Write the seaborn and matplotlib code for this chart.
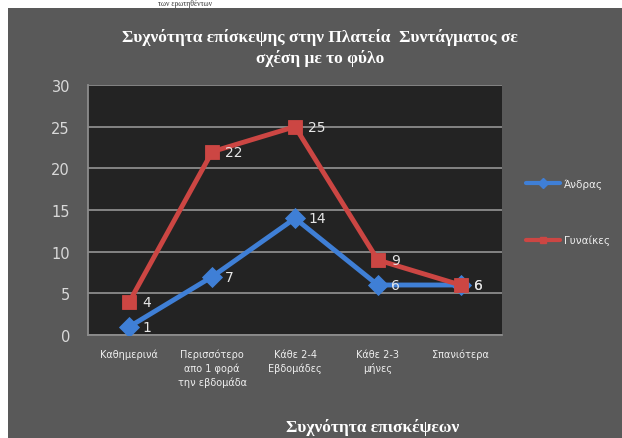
import pandas as pd
import numpy as np
import matplotlib
matplotlib.use("Agg")
import matplotlib.pyplot as plt
import seaborn as sns
from matplotlib.patches import Rectangle

# data
categories = ["Καθημερινά", "Περισσότερο\nαπο 1 φορά\nτην εβδομάδα",
              "Κάθε 2-4\nΕβδομάδες", "Κάθε 2-3\nμήνες", "Σπανιότερα"]
men = [1, 7, 14, 6, 6]
women = [4, 22, 25, 9, 6]
series_names = ["Άνδρας", "Γυναίκες"]
colors = ["#3f7fd6", "#cc4643"]

df = pd.DataFrame({
    "cat": list(range(len(categories))) * 2,
    "value": men + women,
    "series": [series_names[0]] * len(men) + [series_names[1]] * len(women),
})

sns.set_style("dark")
plt.rcParams["font.family"] = ["DejaVu Sans"]

fig = plt.figure(figsize=(6.22, 4.39), dpi=100)
fig.patch.set_facecolor("white")
# dark chart panel (behind the axes)
fig.patches.append(Rectangle((8 / 622, 0), 1 - 8 / 622, (439 - 9) / 439,
                             transform=fig.transFigure, facecolor="#595959",
                             edgecolor="none", zorder=-10))

ax = fig.add_axes([88 / 622, (439 - 336) / 439, 414 / 622, 250 / 439])
ax.set_facecolor("#232323")

sns.lineplot(data=df, x="cat", y="value", hue="series", style="series",
             markers={series_names[0]: "D", series_names[1]: "s"}, dashes=False,
             palette=colors, linewidth=3.5, markersize=10, markeredgewidth=0.6,
             ax=ax, legend=False, zorder=3)
for line, c in zip(ax.get_lines(), colors):
    line.set_markeredgecolor(c)

# data labels
for vals in (men, women):
    for i, v in enumerate(vals):
        ax.annotate(str(v), (i, v), xytext=(13, 0), textcoords="offset pixels",
                    ha="left", va="center", color="#e6e6e6", fontsize=10, zorder=4)

ax.set_xlim(-0.5, len(categories) - 0.5)
ax.set_ylim(0, 30)
ax.set_yticks(range(0, 31, 5))
ax.set_xticks(range(len(categories)))
ax.set_xticklabels(categories, fontsize=7, color="#eeeeee", linespacing=1.4)
ax.tick_params(axis="y", labelsize=10.5, labelcolor="#d9d9d9", length=6,
               color="#8c8c8c", width=1.2, pad=7)
ax.tick_params(axis="x", length=0, pad=10)
ax.grid(axis="y", color="#8c8c8c", linewidth=1.3)
ax.grid(axis="x", visible=False)
for side in ("top", "right"):
    ax.spines[side].set_visible(False)
for side in ("left", "bottom"):
    ax.spines[side].set_visible(True)
    ax.spines[side].set_color("#8c8c8c")
    ax.spines[side].set_linewidth(1.3)
ax.set_xlabel("")
ax.set_ylabel("")

# legend
handles = [plt.Line2D([], [], color=colors[0], marker="D", linewidth=3, markersize=5),
           plt.Line2D([], [], color=colors[1], marker="s", linewidth=3, markersize=5)]
leg = fig.legend(handles, series_names, loc="center left",
                 bbox_to_anchor=(517 / 622, 1 - 213 / 439), frameon=False,
                 labelspacing=4.4, handlelength=3.2, handletextpad=0.4,
                 fontsize=7.5)
for t in leg.get_texts():
    t.set_color("#eeeeee")

fig.text(320 / 622, 1 - 48 / 439,
         "Συχνότητα επίσκεψης στην Πλατεία  Συντάγματος σε\nσχέση με το φύλο",
         ha="center", va="center", color="white", fontsize=12.5,
         fontweight="bold", family=["Liberation Serif"], linespacing=1.35)
fig.text(373 / 622, 1 - 428 / 439, "Συχνότητα επισκέψεων", ha="center",
         va="center", color="white", fontsize=12.5, fontweight="bold",
         family=["Liberation Serif"])
# caption fragment in the white strip at the very top
fig.text(185 / 622, 1 - 4.5 / 439, "των ερωτηθέντων", ha="center", va="center",
         color="#333333", fontsize=5.5, family=["Liberation Serif"])

fig.savefig("out.png", dpi=100)
